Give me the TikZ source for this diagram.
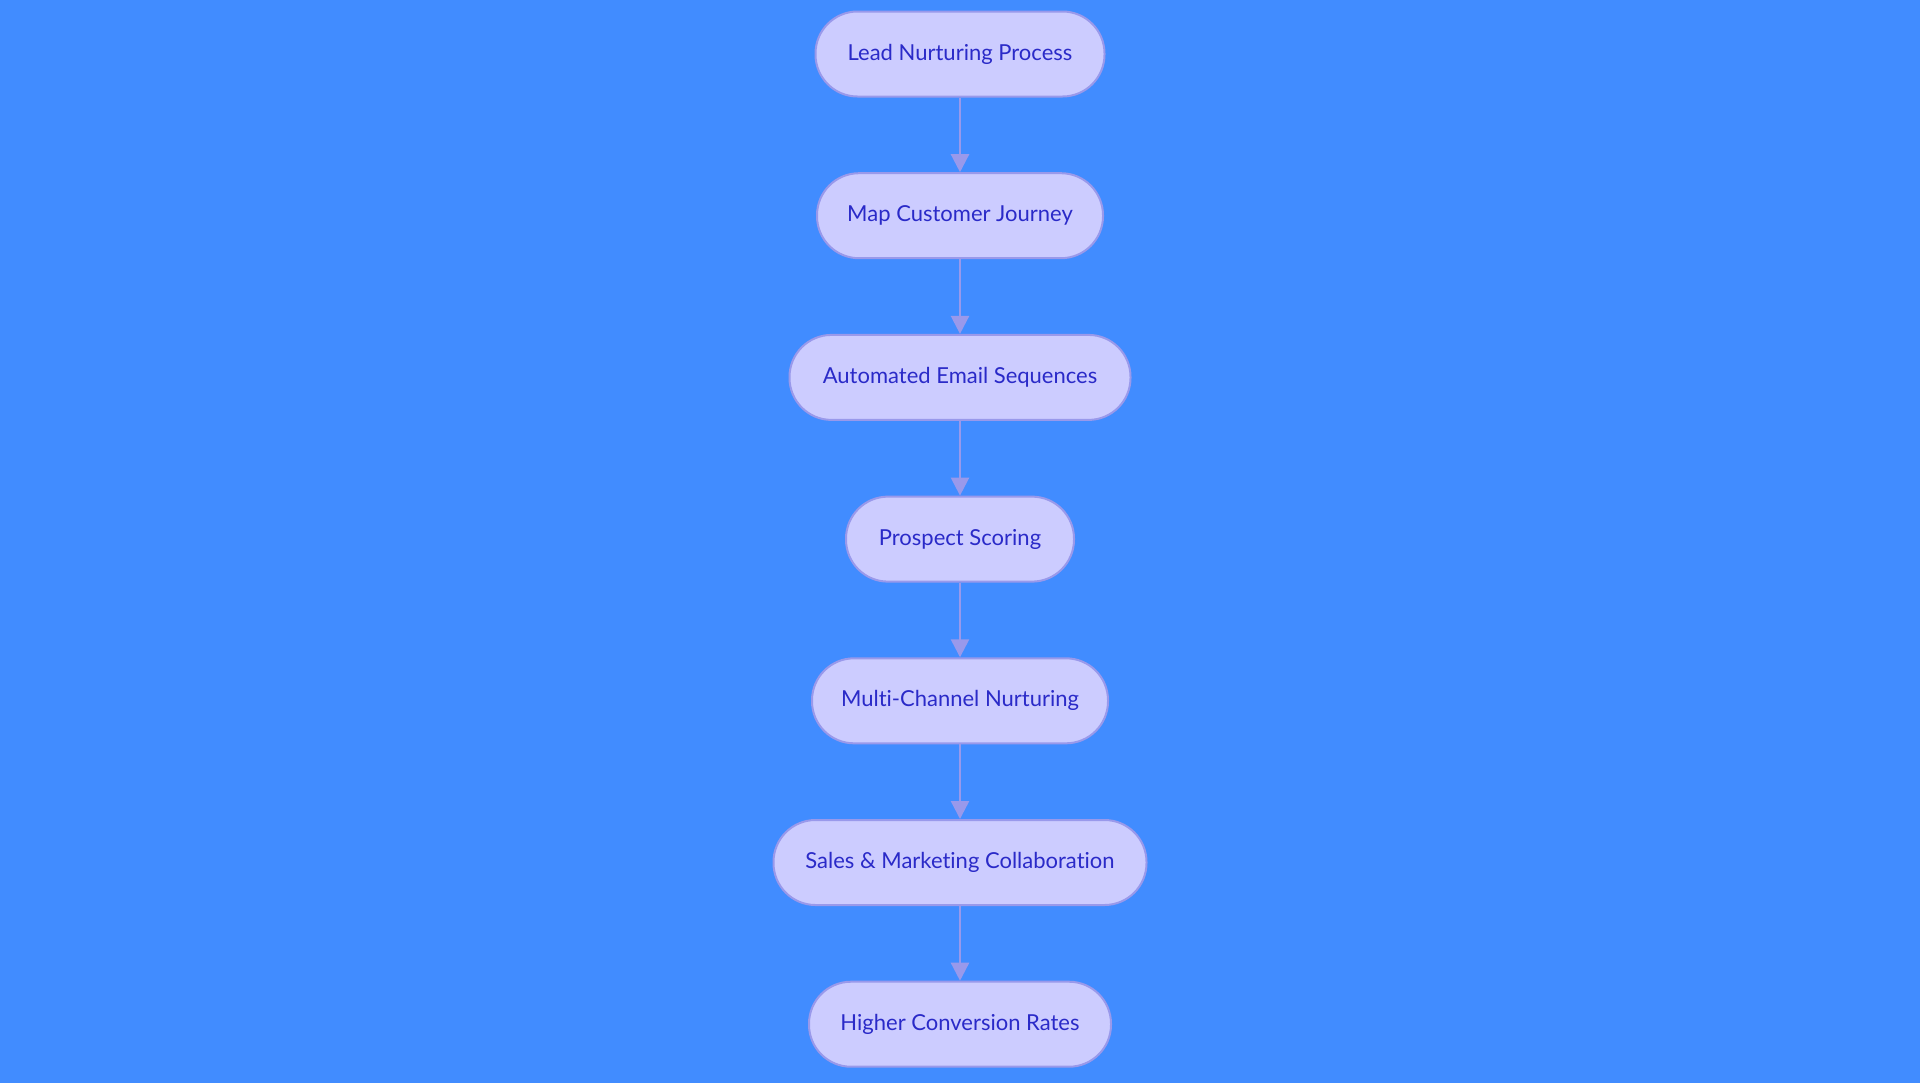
\documentclass[tikz,border=0pt]{standalone}
\usepackage{fontspec}
\setmainfont{Lato}[Ligatures=NoCommon]
\usepackage{tikz}
\usetikzlibrary{arrows.meta,positioning}
\definecolor{bgblue}{RGB}{65,140,255}
\definecolor{boxfill}{RGB}{204,204,255}
\definecolor{boxline}{RGB}{153,153,235}
\definecolor{boxtext}{RGB}{42,42,200}

\tikzset{
  stage/.style={draw=boxline, line width=1pt, fill=boxfill, text=boxtext,
    rounded corners=21pt, minimum height=42.5pt, inner xsep=4pt,
    font=\fontsize{11}{13}\selectfont},
  flow/.style={draw=boxline, line width=1.2pt, -{Triangle[length=9pt,width=9pt]}}
}

\begin{document}
\begin{tikzpicture}[node distance=37.35pt]
    \fill[bgblue] (0,0) rectangle (960pt,-541.5pt);
    \useasboundingbox (0,0) rectangle (960pt,-541.5pt);

    \node[stage, minimum width=144.5pt] (lead) at (480pt,-27pt) {Lead Nurturing Process};
    \node[stage, minimum width=143pt, below=of lead] (journey) {Map Customer Journey};
    \node[stage, minimum width=170.5pt, below=of journey] (email) {Automated Email Sequences};
    \node[stage, minimum width=114pt, below=of email] (scoring) {Prospect Scoring};
    \node[stage, minimum width=148pt, below=of scoring] (channel) {Multi-Channel Nurturing};
    \node[stage, minimum width=186.5pt, below=of channel] (sales) {Sales \& Marketing Collaboration};
    \node[stage, minimum width=151pt, below=of sales] (rates) {Higher Conversion Rates};

    \draw[flow] (lead) -- (journey);
    \draw[flow] (journey) -- (email);
    \draw[flow] (email) -- (scoring);
    \draw[flow] (scoring) -- (channel);
    \draw[flow] (channel) -- (sales);
    \draw[flow] (sales) -- (rates);
\end{tikzpicture}
\end{document}
